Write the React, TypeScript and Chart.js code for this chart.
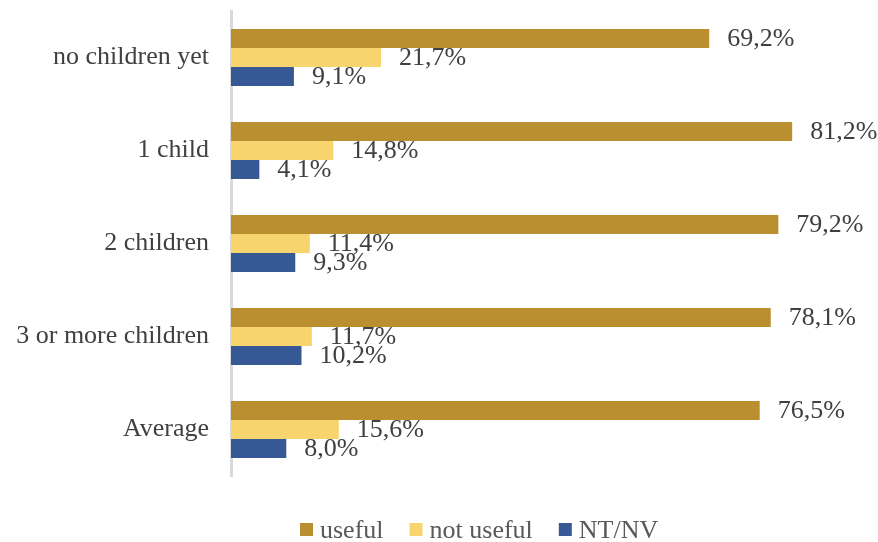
import React, { useEffect, useRef } from "react";
import { Chart, registerables } from "chart.js";

Chart.register(...registerables);

const categories = ["no children yet", "1 child", "2 children", "3 or more children", "Average"];
const seriesNames = ["useful", "not useful", "NT/NV"];
const usefulValues = [69.2, 81.2, 79.2, 78.1, 76.5];
const notUsefulValues = [21.7, 14.8, 11.4, 11.7, 15.6];
const ntnvValues = [9.1, 4.1, 9.3, 10.2, 8.0];
const seriesColors = ["#BA8F30", "#F8D46E", "#365894"];

const FONT = "'Liberation Serif', 'Times New Roman', serif";

const fmt = (v: number) => v.toFixed(1).replace(".", ",") + "%";

const valueLabels = {
  id: "valueLabels",
  afterDatasetsDraw(chart: any) {
    const ctx = chart.ctx;
    ctx.save();
    ctx.font = `26px ${FONT}`;
    ctx.fillStyle = "#404040";
    ctx.textAlign = "left";
    ctx.textBaseline = "middle";
    chart.data.datasets.forEach((ds: any, di: number) => {
      const meta = chart.getDatasetMeta(di);
      meta.data.forEach((bar: any, i: number) => {
        ctx.fillText(fmt(ds.data[i]), bar.x + 18, bar.y + 1);
      });
    });
    ctx.restore();
  },
};

const customLegend = {
  id: "customLegend",
  afterDraw(chart: any) {
    const ctx = chart.ctx;
    ctx.save();
    ctx.font = `26px ${FONT}`;
    ctx.textBaseline = "middle";
    ctx.textAlign = "left";
    const y = 530;
    let x = 300;
    chart.data.datasets.forEach((ds: any) => {
      ctx.fillStyle = ds.backgroundColor;
      ctx.fillRect(x, y - 7, 13, 13);
      x += 20;
      ctx.fillStyle = "#595959";
      ctx.fillText(ds.label, x, y + 1);
      x += ctx.measureText(ds.label).width + 26;
    });
    ctx.restore();
  },
};

export default function App() {
  const ref = useRef<HTMLCanvasElement | null>(null);
  useEffect(() => {
    if (!ref.current) return;
    const values = [usefulValues, notUsefulValues, ntnvValues];
    const chart = new Chart(ref.current, {
      type: "bar",
      data: {
        labels: categories,
        datasets: seriesNames.map((name, i) => ({
          label: name,
          data: values[i],
          backgroundColor: seriesColors[i],
          categoryPercentage: 0.613,
          barPercentage: 1,
        })),
      },
      options: {
        indexAxis: "y",
        animation: false,
        responsive: false,
        maintainAspectRatio: false,
        layout: { padding: { top: 11, bottom: 66, left: 0, right: 25 } },
        plugins: {
          legend: { display: false },
          tooltip: { enabled: false },
        },
        scales: {
          x: {
            display: false,
            min: 0,
            max: 90,
          },
          y: {
            grid: { display: true, drawOnChartArea: false, drawTicks: false, color: "rgba(0,0,0,0)" },
            border: { display: true, color: "#D9D9D9", width: 3 },
            ticks: {
              color: "#404040",
              padding: 22,
              font: { family: FONT, size: 26 },
            },
            afterFit(scale: any) {
              scale.width = 231;
              scale.paddingTop = 0;
              scale.paddingBottom = 0;
            },
          },
        },
      },
      plugins: [valueLabels, customLegend],
    });
    return () => chart.destroy();
  }, []);
  return (
    <div style={{ position: "absolute", left: 0, top: 0, width: 878, height: 542, background: "#fff" }}>
      <canvas ref={ref} width={878} height={542} style={{ display: "block" }} />
    </div>
  );
}
